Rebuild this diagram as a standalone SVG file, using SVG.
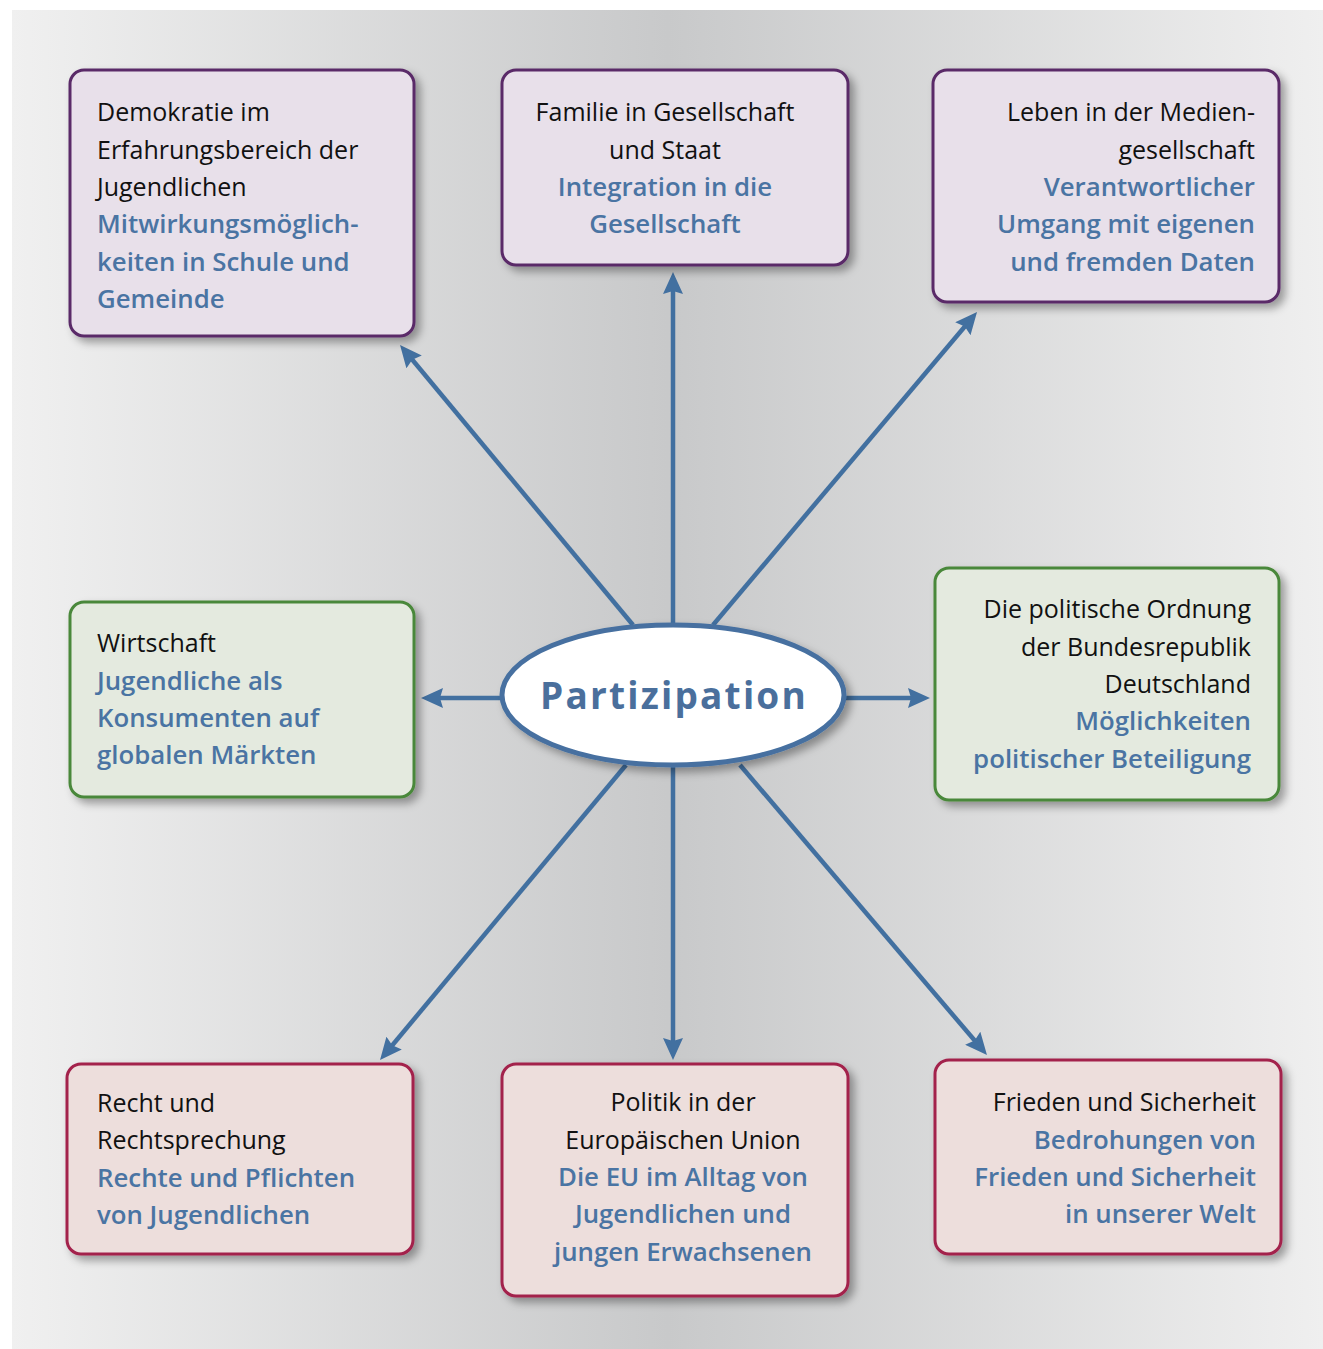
<svg xmlns="http://www.w3.org/2000/svg" width="1323" height="1349" viewBox="0 0 1323 1349">
<defs>
<linearGradient id="bg" x1="0" y1="0" x2="1" y2="0">
<stop offset="0" stop-color="#f0f0f0"/>
<stop offset="0.5" stop-color="#c8c9ca"/>
<stop offset="1" stop-color="#efefef"/>
</linearGradient>
<filter id="sh" x="-10%" y="-10%" width="125%" height="130%">
<feDropShadow dx="5" dy="5" stdDeviation="4" flood-color="#000" flood-opacity="0.35"/>
</filter>
<marker id="ah" viewBox="0 0 22 20" refX="8" refY="10" markerWidth="22" markerHeight="20" markerUnits="userSpaceOnUse" orient="auto">
<path d="M0,0 L22,10 L0,20 L3,10 z" fill="#4270a0"/>
</marker>
<style>
.box{stroke-width:3}
.purple{fill:#e8e0ea;stroke:#5a2a68}
.green{fill:#e4eadf;stroke:#4a883a}
.red{fill:#eddedc;stroke:#a3204c}
text{font-family:"Open Sans","Noto Sans",sans-serif;font-size:25px}
.k{fill:#111}
.b{fill:#4a74a3;font-weight:600;font-size:25.8px}
.r{text-anchor:end}
.m{text-anchor:middle}
.conn{stroke:#4270a0;stroke-width:4.5;fill:none;marker-end:url(#ah)}
</style>
</defs>
<rect x="12" y="10" width="1311" height="1339" fill="url(#bg)"/>
<g id="connectors">
<line class="conn" x1="633" y1="625" x2="409" y2="355.8"/>
<line class="conn" x1="673" y1="640" x2="673" y2="286"/>
<line class="conn" x1="713" y1="625" x2="968" y2="322.7"/>
<line class="conn" x1="520" y1="698" x2="435" y2="698"/>
<line class="conn" x1="830" y1="698" x2="916" y2="698"/>
<line class="conn" x1="626" y1="765" x2="389" y2="1049.2"/>
<line class="conn" x1="673" y1="750" x2="673" y2="1046"/>
<line class="conn" x1="740" y1="765" x2="977.9" y2="1044.3"/>
</g>
<g id="center">
<ellipse cx="673" cy="695" rx="171" ry="70" fill="#fff" stroke="#4670a0" stroke-width="5" filter="url(#sh)"/>
<text x="674" y="709" text-anchor="middle" style="font-size:37px;font-weight:700;letter-spacing:2.2px;fill:#4a6f9c">Partizipation</text>
</g>
<g id="n1">
<rect class="box purple" x="70" y="70" width="344" height="266" rx="14" filter="url(#sh)"/>
<text class="k" x="97" y="121">Demokratie im</text>
<text class="k" x="97" y="159">Erfahrungsbereich der</text>
<text class="k" x="97" y="196">Jugendlichen</text>
<text class="b" x="97" y="233">Mitwirkungsmöglich-</text>
<text class="b" x="97" y="271">keiten in Schule und</text>
<text class="b" x="97" y="308">Gemeinde</text>
</g>
<g id="n2">
<rect class="box purple" x="502" y="70" width="346" height="195" rx="14" filter="url(#sh)"/>
<text class="k m" x="665" y="121">Familie in Gesellschaft</text>
<text class="k m" x="665" y="159">und Staat</text>
<text class="b m" x="665" y="196">Integration in die</text>
<text class="b m" x="665" y="233">Gesellschaft</text>
</g>
<g id="n3">
<rect class="box purple" x="933" y="70" width="346" height="232" rx="14" filter="url(#sh)"/>
<text class="k r" x="1255" y="121">Leben in der Medien-</text>
<text class="k r" x="1255" y="159">gesellschaft</text>
<text class="b r" x="1255" y="196">Verantwortlicher</text>
<text class="b r" x="1255" y="233">Umgang mit eigenen</text>
<text class="b r" x="1255" y="271">und fremden Daten</text>
</g>
<g id="n4">
<rect class="box green" x="70" y="602" width="344" height="195" rx="14" filter="url(#sh)"/>
<text class="k" x="97" y="652">Wirtschaft</text>
<text class="b" x="97" y="690">Jugendliche als</text>
<text class="b" x="97" y="727">Konsumenten auf</text>
<text class="b" x="97" y="764">globalen Märkten</text>
</g>
<g id="n5">
<rect class="box green" x="935" y="568" width="344" height="232" rx="14" filter="url(#sh)"/>
<text class="k r" x="1251" y="618">Die politische Ordnung</text>
<text class="k r" x="1251" y="656">der Bundesrepublik</text>
<text class="k r" x="1251" y="693">Deutschland</text>
<text class="b r" x="1251" y="730">Möglichkeiten</text>
<text class="b r" x="1251" y="768">politischer Beteiligung</text>
</g>
<g id="n6">
<rect class="box red" x="67" y="1064" width="346" height="190" rx="14" filter="url(#sh)"/>
<text class="k" x="97" y="1112">Recht und</text>
<text class="k" x="97" y="1149">Rechtsprechung</text>
<text class="b" x="97" y="1187">Rechte und Pflichten</text>
<text class="b" x="97" y="1224">von Jugendlichen</text>
</g>
<g id="n7">
<rect class="box red" x="502" y="1064" width="346" height="232" rx="14" filter="url(#sh)"/>
<text class="k m" x="683" y="1111">Politik in der</text>
<text class="k m" x="683" y="1149">Europäischen Union</text>
<text class="b m" x="683" y="1186">Die EU im Alltag von</text>
<text class="b m" x="683" y="1223">Jugendlichen und</text>
<text class="b m" x="683" y="1261">jungen Erwachsenen</text>
</g>
<g id="n8">
<rect class="box red" x="935" y="1060" width="346" height="194" rx="14" filter="url(#sh)"/>
<text class="k r" x="1256" y="1111">Frieden und Sicherheit</text>
<text class="b r" x="1256" y="1149">Bedrohungen von</text>
<text class="b r" x="1256" y="1186">Frieden und Sicherheit</text>
<text class="b r" x="1256" y="1223">in unserer Welt</text>
</g>
</svg>
